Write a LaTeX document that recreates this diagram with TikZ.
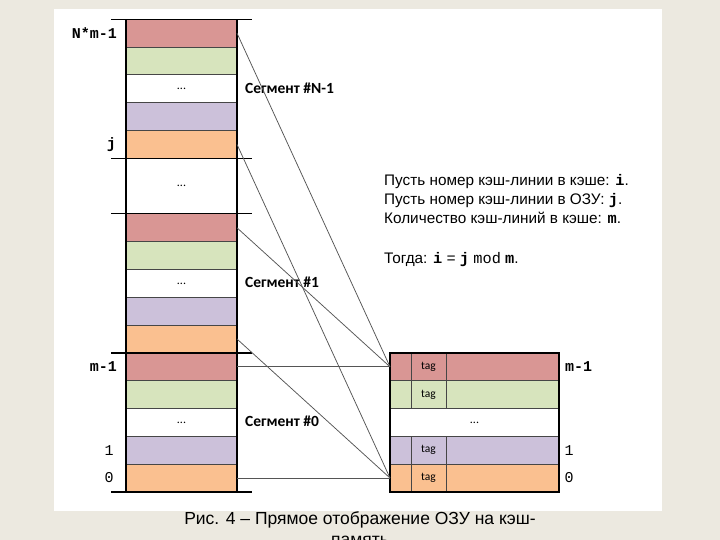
\documentclass[tikz,border=0pt]{standalone}
\usepackage{fontspec}
\setmainfont{Liberation Sans}
\newfontfamily\calfont{Carlito}
\newfontfamily\monofont{Liberation Mono}
\definecolor{bg}{RGB}{236,233,224}
\definecolor{rr}{RGB}{217,150,148}
\definecolor{gg}{RGB}{215,228,189}
\definecolor{pp}{RGB}{204,193,218}
\definecolor{oo}{RGB}{250,192,144}
\definecolor{cn}{RGB}{85,85,85}
\definecolor{sep}{RGB}{70,70,70}
\begin{document}
\begin{tikzpicture}[x=1pt,y=-1pt,
  cell/.style={draw=sep, line width=0.8pt, minimum width=111pt, minimum height=27.8pt,
    inner sep=0pt, outer sep=0pt, anchor=north west, font=\calfont\fontsize{12}{12}\selectfont},
  ccell/.style={cell, minimum width=169pt},
  edge/.style={black, line width=1.2pt},
  conn/.style={cn, line width=0.75pt},
  seglabel/.style={anchor=west, inner sep=0pt, font=\calfont\bfseries\fontsize{15.5}{16}\selectfont},
  monolabel/.style={inner sep=0pt, font=\monofont\bfseries\fontsize{15}{15}\selectfont},
  numlabel/.style={inner sep=0pt, font=\monofont\fontsize{15}{15}\selectfont},
  tagtext/.style={inner sep=0pt, font=\calfont\fontsize{11.5}{12}\selectfont},
  infotext/.style={anchor=base west, inner sep=0pt, font=\fontsize{15.3}{17}\selectfont}
]
\useasboundingbox (0,0) rectangle (720,540);
\fill[bg] (0,0) rectangle (720,540);
\fill[white] (54,9) rectangle (662,510.5);

% left column (RAM)
\node[cell, fill=rr] (L0) at (126,19.3) {};
\node[cell, fill=gg] (L1) at (126,47.1) {};
\node[cell, fill=white] (L2) at (126,74.9) {...};
\node[cell, fill=pp] (L3) at (126,102.7) {};
\node[cell, fill=oo] (L4) at (126,130.5) {};
\node[cell, fill=white, minimum height=55.6pt] (L5) at (126,158.3) {...};
\node[cell, fill=rr] (L7) at (126,213.9) {};
\node[cell, fill=gg] (L8) at (126,241.7) {};
\node[cell, fill=white] (L9) at (126,269.5) {...};
\node[cell, fill=pp] (L10) at (126,297.3) {};
\node[cell, fill=oo] (L11) at (126,325.1) {};
\node[cell, fill=rr] (L12) at (126,352.9) {};
\node[cell, fill=gg] (L13) at (126,380.7) {};
\node[cell, fill=white] (L14) at (126,408.5) {...};
\node[cell, fill=pp] (L15) at (126,436.3) {};
\node[cell, fill=oo] (L16) at (126,464.1) {};
\draw[edge] (L0.north west) -- (L16.south west);
\draw[edge] (L0.north east) -- (L16.south east);
\draw[edge] (111,19.3) -- (252,19.3);
\draw[edge] (111,158.3) -- (252,158.3);
\draw[edge] (111,213.9) -- (252,213.9);
\draw[edge] (111,352.9) -- (252,352.9);
\draw[edge] (111,491.9) -- (252,491.9);

% left labels
\node[monolabel, anchor=east] (lNm) at (117,33.2) {N*m-1};
\node[monolabel, anchor=east] (lj) at (116,144.4) {j};
\node[monolabel, anchor=east] (lm1) at (117,366.8) {m-1};
\node[numlabel] (l1) at (109,450.2) {1};
\node[numlabel] (l0) at (109,478) {0};

% segment labels
\node[seglabel] (sN) at (245,88) {Сегмент \#N-1};
\node[seglabel] (s1) at (245,282) {Сегмент \#1};
\node[seglabel] (s0) at (245,421) {Сегмент \#0};

% cache
\node[ccell, fill=rr] (C0) at (390,352.9) {};
\node[ccell, fill=gg] (C1) at (390,380.7) {};
\node[ccell, fill=white] (C2) at (390,408.5) {...};
\node[ccell, fill=pp] (C3) at (390,436.3) {};
\node[ccell, fill=oo] (C4) at (390,464.1) {};
\foreach \r in {C0,C1,C3,C4}{
  \draw[sep, line width=0.8pt] ([xshift=21pt]\r.north west) -- ([xshift=21pt]\r.south west);
  \draw[sep, line width=0.8pt] ([xshift=56pt]\r.north west) -- ([xshift=56pt]\r.south west);
  \node[tagtext] at ([xshift=38.5pt]\r.west) {tag};
}
\draw[edge] (C0.north west) rectangle (C4.south east);

% right labels
\node[monolabel, anchor=west] (rm1) at (565,366.8) {m-1};
\node[numlabel] (r1) at (569,450.2) {1};
\node[numlabel] (r0) at (569,478) {0};

% connectors
\draw[conn] (L0.east) -- (C0.west);
\draw[conn] (L7.east) -- (C0.west);
\draw[conn] (L12.east) -- (C0.west);
\draw[conn] (L4.east) -- (C4.west);
\draw[conn] (L11.east) -- (C4.west);
\draw[conn] (L16.east) -- (C4.west);

% info text
\node[infotext] (t1) at (384,186) {Пусть номер кэш-линии в кэше: {\monofont\bfseries i}.};
\node[infotext] (t2) at (384,205) {Пусть номер кэш-линии в ОЗУ: {\monofont\bfseries j}.};
\node[infotext] (t3) at (384,224) {Количество кэш-линий в кэше: {\monofont\bfseries m}.};
\node[infotext] (t4) at (384,263) {Тогда: {\monofont\bfseries i} {\monofont =} {\monofont\bfseries j} {\monofont mod} {\monofont\bfseries m}.};

% caption
\node[anchor=base, inner sep=0pt, font=\fontsize{17.5}{20}\selectfont] (cap1) at (360,524.5) {Рис. 4 – Прямое отображение ОЗУ на кэш-};
\node[anchor=base, inner sep=0pt, font=\fontsize{17.5}{20}\selectfont] (cap2) at (360,545) {память};
\end{tikzpicture}
\end{document}
